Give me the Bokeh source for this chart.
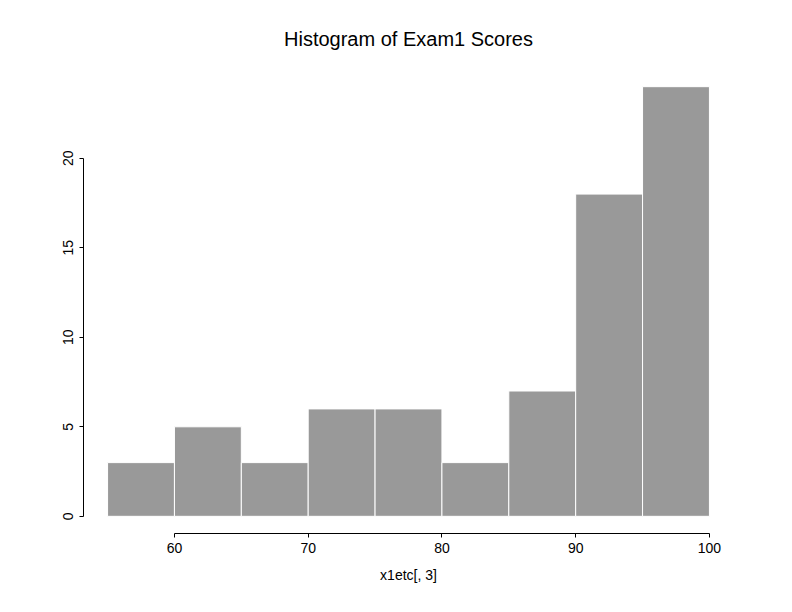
from bokeh.plotting import figure
from bokeh.models import FixedTicker, Range1d
from bokeh.embed import file_html
from bokeh.resources import INLINE

# data
bin_left = [55, 60, 65, 70, 75, 80, 85, 90, 95]
bin_right = [60, 65, 70, 75, 80, 85, 90, 95, 100]
counts = [3, 5, 3, 6, 6, 3, 7, 18, 24]
x_ticks = [60, 70, 80, 90, 100]
y_ticks = [0, 5, 10, 15, 20]
title_text = "Histogram of Exam1 Scores"
x_label = "x1etc[, 3]"

FONT = "Liberation Sans"

p = figure(width=784, height=604, output_backend="svg", toolbar_location=None,
           x_range=Range1d(53.2, 101.8), y_range=Range1d(-0.96, 24.96),
           min_border_left=83, min_border_right=51, min_border_top=69, min_border_bottom=71,
           title=title_text)
p.outline_line_color = None
p.grid.visible = False
p.background_fill_color = "white"
p.border_fill_color = "white"

p.title.align = "center"
p.title.text_font = FONT
p.title.text_font_size = "20px"
p.title.text_font_style = "normal"
p.title.text_color = "black"
p.title.standoff = 40

p.quad(left=bin_left, right=bin_right, bottom=[0] * len(counts), top=counts,
       fill_color="#999999", line_color="white", line_width=1)

xa = p.xaxis[0]
xa.ticker = FixedTicker(ticks=x_ticks)
xa.bounds = (60, 100)
xa.minor_tick_line_color = None
xa.major_tick_in = 0
xa.major_tick_out = 4
xa.major_label_standoff = 5
xa.major_label_text_font = FONT
xa.major_label_text_font_size = "14px"
xa.major_label_text_color = "black"
xa.axis_label = x_label
xa.axis_label_text_font = FONT
xa.axis_label_text_font_size = "14px"
xa.axis_label_text_font_style = "normal"
xa.axis_label_text_color = "black"
xa.axis_label_standoff = 11
xa.axis_line_color = "black"
xa.major_tick_line_color = "black"

ya = p.yaxis[0]
ya.ticker = FixedTicker(ticks=y_ticks)
ya.bounds = (0, 20)
ya.minor_tick_line_color = None
ya.major_tick_in = 0
ya.major_tick_out = 4
ya.major_label_standoff = 6
ya.major_label_orientation = "vertical"
ya.major_label_text_font = FONT
ya.major_label_text_font_size = "14px"
ya.major_label_text_color = "black"
ya.axis_line_color = "black"
ya.major_tick_line_color = "black"

open("out.html", "w").write(file_html(p, INLINE))
